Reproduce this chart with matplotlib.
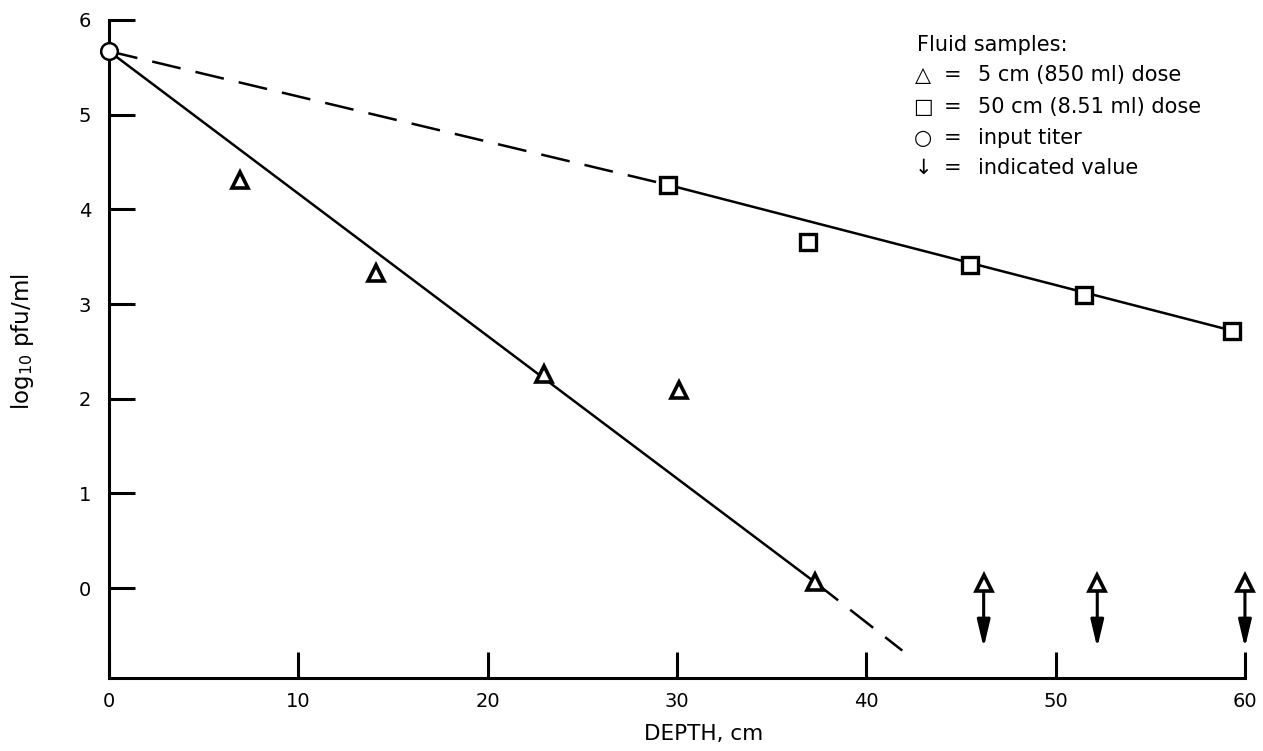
import matplotlib
matplotlib.use("Agg")
import matplotlib.pyplot as plt

plt.rcParams['font.family'] = ['DejaVu Sans']
plt.rcParams['lines.scale_dashes'] = False

# input titer
input_depth = 0.0
input_titer = 5.67

# 5 cm (850 ml) dose, triangles
tri_depth = [6.9, 14.1, 23.0, 30.1, 37.3]
tri_log = [4.31, 3.33, 2.26, 2.09, 0.06]

# indicated values (triangles with arrows)
ind_depth = [46.2, 52.2, 60.0]
ind_log = [0.05, 0.05, 0.05]

# 50 cm (8.51 ml) dose, squares
sq_depth = [29.5, 36.9, 45.5, 51.5, 59.3]
sq_log = [4.26, 3.65, 3.41, 3.10, 2.72]

# fitted lines
fit5_solid_x = [0.0, 37.3]
fit5_solid_y = [5.67, 0.06]
fit5_dash_x = [37.3, 41.9]
fit5_dash_y = [0.06, -0.66]
fit50_dash_x = [0.0, 29.5]
fit50_dash_y = [5.67, 4.26]
fit50_solid_x = [29.5, 59.3]
fit50_solid_y = [4.26, 2.72]

fig = plt.figure(figsize=(12.63, 7.51), dpi=100)
ax = fig.add_axes([0.0863, 0.0972, 0.8994, 0.8762])

lw = 1.8
ax.plot(fit5_solid_x, fit5_solid_y, color='k', lw=lw, solid_capstyle='butt')
ax.plot(fit5_dash_x, fit5_dash_y, color='k', lw=lw, dashes=(21, 11))
ax.plot(fit50_dash_x, fit50_dash_y, color='k', lw=lw, dashes=(21, 11))
ax.plot(fit50_solid_x, fit50_solid_y, color='k', lw=lw)

# arrows below the indicated values
for x, y in zip(ind_depth, ind_log):
    ax.annotate('', xy=(x, y - 0.68), xytext=(x, y - 0.08),
                arrowprops=dict(arrowstyle='-|>,head_length=0.55,head_width=0.13',
                                color='k', lw=2.2, mutation_scale=30,
                                shrinkA=0, shrinkB=0),
                annotation_clip=False)

ax.plot(tri_depth, tri_log, ls='none', marker='^', ms=12, mfc='white',
        mec='k', mew=2.6, zorder=5)
ax.plot(ind_depth, ind_log, ls='none', marker='^', ms=12, mfc='white',
        mec='k', mew=2.6, zorder=5, clip_on=False)
ax.plot(sq_depth, sq_log, ls='none', marker='s', ms=12, mfc='white',
        mec='k', mew=2.4, zorder=5)
ax.plot([input_depth], [input_titer], ls='none', marker='o', ms=12,
        mfc='white', mec='k', mew=1.8, zorder=6, clip_on=False)

ax.set_xlim(0, 60)
ax.set_ylim(-0.95, 6)
ax.spines['top'].set_visible(False)
ax.spines['right'].set_visible(False)
ax.spines['left'].set_linewidth(2.2)
ax.spines['bottom'].set_linewidth(2.2)
ax.set_xticks([0, 10, 20, 30, 40, 50, 60])
ax.set_yticks([0, 1, 2, 3, 4, 5, 6])
ax.tick_params(direction='in', length=19, width=2.2, labelsize=14, pad=13)
ax.tick_params(axis='x', pad=10)

fig.text(704 / 1263, 1 - 734 / 751, 'DEPTH, cm', fontsize=15.5,
         ha='center', va='center')
fig.text(23 / 1263, 1 - 342 / 751, 'log$_{10}$ pfu/ml', rotation=90,
         fontsize=16.5, ha='center', va='center')

# key
fs = 15
fig.text(917 / 1263, 1 - 45 / 751, 'Fluid samples:', fontsize=fs, va='center')
rows = [('\u25b3', '5 cm (850 ml) dose'),
        ('\u25a1', '50 cm (8.51 ml) dose'),
        ('\u25cb', 'input titer'),
        ('\u2193', 'indicated value')]
ys = [75, 107, 138, 168]
for (sym, lab), y in zip(rows, ys):
    fig.text(923 / 1263, 1 - y / 751, sym, fontsize=fs, va='center', ha='center')
    fig.text(953 / 1263, 1 - y / 751, '=', fontsize=fs, va='center', ha='center')
    fig.text(978 / 1263, 1 - y / 751, lab, fontsize=fs, va='center')

fig.savefig('out.png', dpi=100)
